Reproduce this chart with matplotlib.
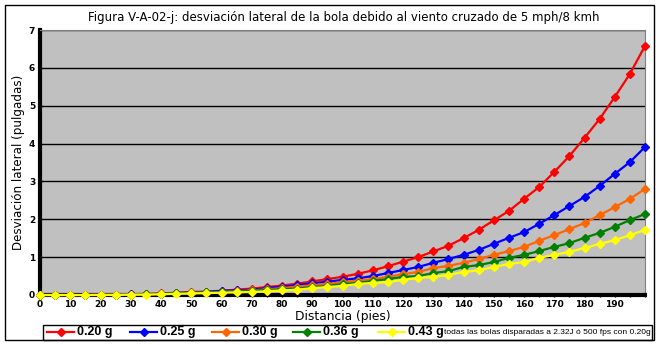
import matplotlib
matplotlib.use("Agg")
import matplotlib.pyplot as plt
from matplotlib.lines import Line2D
from matplotlib.patches import Rectangle

# ---------------------------------------------------------------------
# Data: lateral drift (inches) every 5 ft, 0..200 ft
# ---------------------------------------------------------------------
distance_ft = list(range(0, 205, 5))

drift_020 = [0, 0, 0, 0, 0.01, 0.01, 0.02, 0.03, 0.04, 0.06,
             0.08, 0.09, 0.11, 0.14, 0.17, 0.21, 0.25, 0.30, 0.36, 0.42,
             0.48, 0.56, 0.65, 0.76, 0.88, 1.00, 1.15, 1.30, 1.50, 1.72,
             1.97, 2.22, 2.54, 2.85, 3.25, 3.67, 4.15, 4.65, 5.23, 5.84,
             6.58]
drift_025 = [0, 0, 0, 0, 0.01, 0.01, 0.02, 0.02, 0.03, 0.05,
             0.06, 0.08, 0.11, 0.12, 0.14, 0.18, 0.22, 0.26, 0.31, 0.35,
             0.40, 0.44, 0.50, 0.58, 0.66, 0.74, 0.85, 0.95, 1.06, 1.19,
             1.35, 1.51, 1.66, 1.88, 2.11, 2.35, 2.59, 2.88, 3.20, 3.51,
             3.91]
drift_030 = [0, 0, 0, 0, 0.01, 0.01, 0.01, 0.02, 0.03, 0.04,
             0.05, 0.07, 0.08, 0.10, 0.12, 0.15, 0.18, 0.22, 0.26, 0.29,
             0.34, 0.38, 0.42, 0.48, 0.55, 0.61, 0.71, 0.77, 0.85, 0.95,
             1.06, 1.16, 1.27, 1.43, 1.58, 1.74, 1.90, 2.11, 2.32, 2.54,
             2.80]
drift_036 = [0, 0, 0, 0, 0, 0.01, 0.01, 0.02, 0.03, 0.05,
             0.06, 0.07, 0.08, 0.09, 0.11, 0.13, 0.15, 0.17, 0.21, 0.24,
             0.29, 0.32, 0.37, 0.42, 0.48, 0.50, 0.58, 0.63, 0.74, 0.79,
             0.87, 0.98, 1.06, 1.16, 1.27, 1.37, 1.51, 1.64, 1.80, 1.98,
             2.14]
drift_043 = [0, 0, 0, 0, 0, 0, 0.01, 0.01, 0.02, 0.03,
             0.04, 0.05, 0.06, 0.07, 0.08, 0.10, 0.12, 0.14, 0.18, 0.21,
             0.24, 0.29, 0.32, 0.34, 0.40, 0.45, 0.48, 0.53, 0.61, 0.65,
             0.74, 0.82, 0.87, 0.98, 1.06, 1.14, 1.24, 1.35, 1.45, 1.58,
             1.72]

series_labels = ["0.20 g", "0.25 g", "0.30 g", "0.36 g", "0.43 g"]
series_colors = ["#FF0000", "#0000FF", "#FF6600", "#008000", "#FFFF00"]
series_values = [drift_020, drift_025, drift_030, drift_036, drift_043]

y_ticks = [0, 1, 2, 3, 4, 5, 6, 7]
x_tick_labels = [str(d) for d in distance_ft if d % 10 == 0 and d < 200]

TITLE = "Figura V-A-02-j: desviación lateral de la bola debido al viento cruzado de 5 mph/8 kmh"
NOTE = "todas las bolas disparadas a 2.32J ó 500 fps con 0.20g"

# ---------------------------------------------------------------------
# Figure
# ---------------------------------------------------------------------
fig = plt.figure(figsize=(6.59, 3.45), dpi=100)
fig.patches.append(Rectangle((5 / 659, 5 / 345), 649 / 659, 335 / 345,
                             transform=fig.transFigure, fill=False,
                             edgecolor="black", linewidth=1.0))

ax = fig.add_axes([40 / 659, 50 / 345, 605 / 659, 265 / 345])
ax.set_facecolor("#C0C0C0")

cat_pos = list(range(len(distance_ft)))
for vals, col, lab in zip(series_values, series_colors, series_labels):
    ax.plot(cat_pos, vals, color=col, linewidth=1.6, marker="D",
            markersize=4, markeredgecolor=col, label=lab, clip_on=False, zorder=3)

ax.set_xlim(0, len(distance_ft) - 1)
ax.set_ylim(0, 7)
ax.set_yticks(y_ticks)
ax.set_yticklabels([str(v) for v in y_ticks], fontsize=6.5, fontweight="bold")
ax.set_xticks([p for p, d in zip(cat_pos, distance_ft) if d % 10 == 0 and d < 200])
ax.set_xticklabels(x_tick_labels, fontsize=6.5, fontweight="bold")
ax.set_xticks(cat_pos, minor=True)
ax.tick_params(axis="both", which="both", length=3, width=1, direction="inout",
               pad=2, color="black")

ax.grid(axis="y", color="black", linewidth=1.0)
ax.set_axisbelow(True)

ax.spines["left"].set_linewidth(3)
ax.spines["bottom"].set_linewidth(3)
ax.spines["top"].set_color("#808080")
ax.spines["right"].set_color("#808080")

ax.set_xlabel("Distancia (pies)", fontsize=8.8, labelpad=1)
ax.set_ylabel("Desviación lateral (pulgadas)", fontsize=8.6, labelpad=3)
fig.text(344 / 659, 1 - 17 / 345, TITLE, fontsize=8.5, ha="center", va="center")

# legend box along the bottom
fig.patches.append(Rectangle((43 / 659, 5 / 345), 609 / 659, 15 / 345,
                             transform=fig.transFigure, fill=False,
                             edgecolor="black", linewidth=1.0))
handle_x = [47, 130, 212, 293, 378]
for hx, col, lab in zip(handle_x, series_colors, series_labels):
    yy = 1 - 332 / 345
    fig.add_artist(Line2D([hx / 659, (hx + 27) / 659], [yy, yy], color=col,
                          linewidth=1.6, transform=fig.transFigure))
    fig.add_artist(Line2D([(hx + 13.5) / 659], [yy], color=col, marker="D",
                          markersize=4, transform=fig.transFigure))
    fig.text((hx + 30) / 659, yy, lab, fontsize=9, fontweight="bold",
             family="Liberation Sans", ha="left", va="center")
fig.text(651 / 659, 1 - 332 / 345, NOTE, fontsize=6, family="Liberation Sans",
         ha="right", va="center")

fig.savefig("out.png", dpi=100)
